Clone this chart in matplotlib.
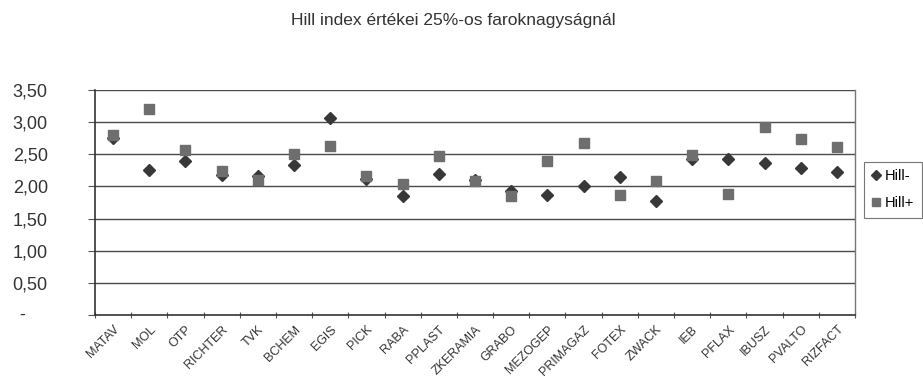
import numpy as np
import matplotlib
matplotlib.use('Agg')
import matplotlib.pyplot as plt
from matplotlib.ticker import FixedLocator, NullFormatter
from matplotlib.transforms import blended_transform_factory, IdentityTransform

# Data
companies = ['MATAV', 'MOL', 'OTP', 'RICHTER', 'TVK', 'BCHEM', 'EGIS', 'PICK', 'RABA',
             'PPLAST', 'ZKERAMIA', 'GRABO', 'MEZOGEP', 'PRIMAGAZ', 'FOTEX', 'ZWACK',
             'IEB', 'PFLAX', 'IBUSZ', 'PVALTO', 'RIZFACT']
hill_minus = [2.76, 2.26, 2.40, 2.18, 2.17, 2.34, 3.06, 2.12, 1.85, 2.20, 2.10,
              1.93, 1.87, 2.00, 2.14, 1.77, 2.43, 2.43, 2.36, 2.28, 2.23]
hill_plus = [2.80, 3.21, 2.56, 2.24, 2.10, 2.51, 2.63, 2.17, 2.04, 2.48, 2.08,
             1.85, 2.40, 2.68, 1.87, 2.08, 2.49, 1.88, 2.93, 2.74, 2.62]
y_ticks = [0.0, 0.5, 1.0, 1.5, 2.0, 2.5, 3.0, 3.5]
y_labels = ['', '0,50', '1,00', '1,50', '2,00', '2,50', '3,00', '3,50']

plt.rcParams['font.family'] = ['Liberation Sans', 'DejaVu Sans']

fig = plt.figure(figsize=(9.23, 3.80), dpi=100)
ax = fig.add_axes([95 / 923, 1 - 315 / 380, 760 / 923, 225 / 380])

x = np.arange(len(companies))
ax.plot(x, hill_minus, linestyle='none', marker='D', ms=6, color='#383838',
        label='Hill-', zorder=3)
ax.plot(x, hill_plus, linestyle='none', marker='s', ms=7, color='#6e6e6e',
        label='Hill+', zorder=4)

ax.set_xlim(-0.5, len(companies) - 0.5)
ax.set_ylim(0, 3.5)

# gridlines
for yv in y_ticks[1:]:
    ax.axhline(yv, color='#4a4a4a', lw=1.0, zorder=1)

ax.set_yticks(y_ticks)
ax.set_yticklabels(y_labels, fontsize=13, color='#333333')
ax.tick_params(axis='y', length=5, width=0.8, color='#555555', pad=29)
# zero is shown as a dash, further left (x in pixels, y in data)
ax.text(22, 0, '-', transform=blended_transform_factory(IdentityTransform(), ax.transData),
        ha='center', va='center', fontsize=13, color='#333333')

# category ticks between categories, labels at centres
ax.xaxis.set_major_locator(FixedLocator(np.arange(-0.5, len(companies), 1.0)))
ax.xaxis.set_major_formatter(NullFormatter())
ax.xaxis.set_minor_locator(FixedLocator(x))
ax.set_xticklabels(companies, minor=True, rotation=45, ha='right',
                   rotation_mode='anchor', fontsize=9, color='#333333')
ax.tick_params(axis='x', which='major', length=4, width=0.8, color='#555555', direction='inout')
ax.tick_params(axis='x', which='minor', length=0, pad=6)

for side in ['left', 'bottom']:
    ax.spines[side].set_color('#333333')
    ax.spines[side].set_linewidth(1.2)
ax.spines['top'].set_visible(False)
ax.spines['right'].set_color('#777777')
ax.spines['right'].set_linewidth(1.0)

fig.text(453 / 923, 1 - 20 / 380, 'Hill index értékei 25%-os faroknagyságnál',
         ha='center', va='center', fontsize=12.5, color='#333333')

leg = fig.legend(loc='upper left', bbox_to_anchor=(864 / 923, 1 - 162 / 380),
                 fontsize=10.5, frameon=True, fancybox=False, handlelength=0.6,
                 handletextpad=0.35, borderpad=0.5, borderaxespad=0.0,
                 labelspacing=0.9, markerscale=0.8)
leg.get_frame().set_edgecolor('#555555')
leg.get_frame().set_linewidth(0.8)

fig.savefig('out.png', dpi=100)
